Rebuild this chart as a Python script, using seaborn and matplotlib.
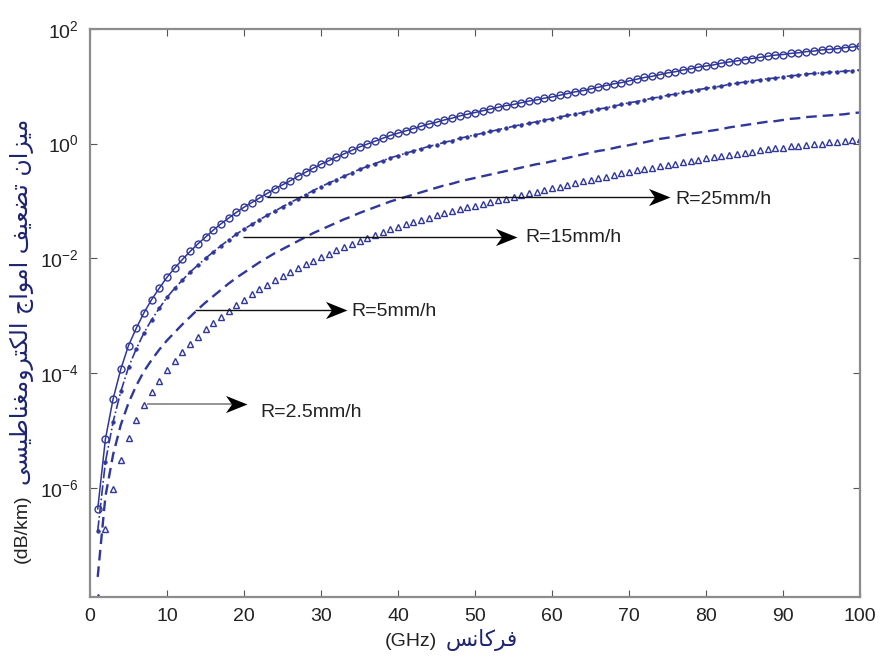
import numpy as np
import pandas as pd
import matplotlib
matplotlib.use("Agg")
import matplotlib.pyplot as plt
from matplotlib.path import Path
import seaborn as sns

# ---------------- data (log10 of attenuation in dB/km) ----------------
freq_ghz = list(range(1, 101))

r25_log10 = [
    -6.37, -5.15, -4.45, -3.93, -3.52, -3.22, -2.95, -2.72, -2.52, -2.33,
    -2.17, -2.02, -1.88, -1.75, -1.63, -1.51, -1.40, -1.30, -1.20, -1.11,
    -1.03, -0.95, -0.87, -0.79, -0.72, -0.65, -0.57, -0.50, -0.43, -0.36,
    -0.30, -0.24, -0.18, -0.12, -0.06, -0.01, 0.04, 0.09, 0.14, 0.18,
    0.22, 0.26, 0.30, 0.34, 0.37, 0.41, 0.44, 0.48, 0.51, 0.54,
    0.57, 0.60, 0.63, 0.66, 0.68, 0.71, 0.74, 0.76, 0.79, 0.81,
    0.84, 0.87, 0.90, 0.92, 0.95, 0.98, 1.01, 1.04, 1.06, 1.09,
    1.12, 1.15, 1.17, 1.20, 1.23, 1.25, 1.28, 1.30, 1.33, 1.35,
    1.37, 1.40, 1.42, 1.44, 1.46, 1.48, 1.50, 1.52, 1.54, 1.55,
    1.57, 1.58, 1.60, 1.61, 1.63, 1.64, 1.65, 1.67, 1.68, 1.70,
]

r15_log10 = [
    -6.75, -5.55, -4.85, -4.32, -3.90, -3.58, -3.30, -3.07, -2.87, -2.68,
    -2.52, -2.38, -2.24, -2.12, -2.00, -1.89, -1.78, -1.68, -1.58, -1.49,
    -1.41, -1.33, -1.25, -1.18, -1.10, -1.03, -0.96, -0.89, -0.82, -0.75,
    -0.69, -0.63, -0.57, -0.51, -0.45, -0.40, -0.35, -0.30, -0.25, -0.21,
    -0.17, -0.13, -0.09, -0.05, -0.02, 0.02, 0.05, 0.09, 0.12, 0.15,
    0.18, 0.21, 0.24, 0.27, 0.30, 0.33, 0.35, 0.38, 0.41, 0.43,
    0.46, 0.49, 0.51, 0.54, 0.57, 0.60, 0.62, 0.65, 0.68, 0.71,
    0.73, 0.76, 0.79, 0.81, 0.84, 0.86, 0.89, 0.91, 0.94, 0.96,
    0.98, 1.00, 1.03, 1.05, 1.07, 1.09, 1.11, 1.13, 1.14, 1.16,
    1.18, 1.19, 1.21, 1.22, 1.23, 1.24, 1.25, 1.26, 1.27, 1.28,
]

r5_log10 = [
    -7.55, -6.15, -5.42, -4.90, -4.52, -4.22, -3.97, -3.77, -3.59, -3.43,
    -3.29, -3.15, -3.02, -2.89, -2.77, -2.66, -2.55, -2.44, -2.34, -2.25,
    -2.16, -2.07, -1.99, -1.91, -1.84, -1.77, -1.70, -1.63, -1.56, -1.50,
    -1.44, -1.38, -1.32, -1.27, -1.21, -1.16, -1.11, -1.06, -1.01, -0.97,
    -0.93, -0.89, -0.85, -0.81, -0.77, -0.73, -0.70, -0.66, -0.63, -0.60,
    -0.57, -0.54, -0.51, -0.48, -0.45, -0.42, -0.39, -0.36, -0.34, -0.31,
    -0.28, -0.25, -0.22, -0.19, -0.16, -0.13, -0.11, -0.08, -0.05, -0.03,
    0.00, 0.02, 0.05, 0.08, 0.10, 0.12, 0.15, 0.17, 0.19, 0.21,
    0.23, 0.25, 0.28, 0.30, 0.32, 0.34, 0.36, 0.38, 0.39, 0.41,
    0.43, 0.44, 0.46, 0.47, 0.48, 0.49, 0.50, 0.51, 0.53, 0.54,
]

r2_5_log10 = [
    -7.90, -6.72, -6.02, -5.52, -5.13, -4.82, -4.56, -4.33, -4.13, -3.95,
    -3.79, -3.64, -3.50, -3.37, -3.24, -3.13, -3.02, -2.91, -2.81, -2.72,
    -2.63, -2.54, -2.46, -2.38, -2.31, -2.24, -2.17, -2.10, -2.04, -1.98,
    -1.92, -1.86, -1.80, -1.75, -1.69, -1.64, -1.59, -1.54, -1.49, -1.45,
    -1.41, -1.37, -1.33, -1.29, -1.25, -1.21, -1.18, -1.14, -1.11, -1.08,
    -1.05, -1.02, -0.99, -0.96, -0.93, -0.90, -0.87, -0.84, -0.81, -0.78,
    -0.75, -0.72, -0.69, -0.66, -0.63, -0.60, -0.58, -0.55, -0.52, -0.50,
    -0.47, -0.45, -0.42, -0.40, -0.37, -0.35, -0.33, -0.31, -0.28, -0.26,
    -0.24, -0.22, -0.20, -0.18, -0.16, -0.14, -0.12, -0.10, -0.08, -0.07,
    -0.05, -0.04, -0.02, -0.01, 0.00, 0.02, 0.03, 0.04, 0.06, 0.07,
]

rain_labels = ["R=25mm/h", "R=15mm/h", "R=5mm/h", "R=2.5mm/h"]
x_ticks = [0, 10, 20, 30, 40, 50, 60, 70, 80, 90, 100]
y_tick_exps = [-6, -4, -2, 0, 2]

# annotation geometry (data coordinates)
arrow_start_x = [23.0, 19.9, 13.6, 7.4]
arrow_tip_x = [75.3, 55.5, 33.4, 20.4]
arrow_y_exp = [-0.94, -1.62, -2.90, -4.53]
label_x = [76.0, 56.5, 34.0, 22.1]
label_y_exp = [-0.98, -1.64, -2.93, -4.69]
arrow_line_colors = ["#111111", "#111111", "#111111", "#8a8a8a"]

# ---------------- Persian shaping helper (presentation forms, visual order) ----------------
FORMS = {
    "\u0627": ("\uFE8D", "\uFE8E", None, None),
    "\u062A": ("\uFE95", "\uFE96", "\uFE97", "\uFE98"),
    "\u062C": ("\uFE9D", "\uFE9E", "\uFE9F", "\uFEA0"),
    "\u0631": ("\uFEAD", "\uFEAE", None, None),
    "\u0632": ("\uFEAF", "\uFEB0", None, None),
    "\u0633": ("\uFEB1", "\uFEB2", "\uFEB3", "\uFEB4"),
    "\u0636": ("\uFEBD", "\uFEBE", "\uFEBF", "\uFEC0"),
    "\u0637": ("\uFEC1", "\uFEC2", "\uFEC3", "\uFEC4"),
    "\u0639": ("\uFEC9", "\uFECA", "\uFECB", "\uFECC"),
    "\u063A": ("\uFECD", "\uFECE", "\uFECF", "\uFED0"),
    "\u0641": ("\uFED1", "\uFED2", "\uFED3", "\uFED4"),
    "\u0644": ("\uFEDD", "\uFEDE", "\uFEDF", "\uFEE0"),
    "\u0645": ("\uFEE1", "\uFEE2", "\uFEE3", "\uFEE4"),
    "\u0646": ("\uFEE5", "\uFEE6", "\uFEE7", "\uFEE8"),
    "\u0648": ("\uFEED", "\uFEEE", None, None),
    "\u06A9": ("\uFB8E", "\uFB8F", "\uFB90", "\uFB91"),
    "\u0643": ("\uFED9", "\uFEDA", "\uFEDB", "\uFEDC"),
    "\u06CC": ("\uFBFC", "\uFBFD", "\uFBFE", "\uFBFF"),
    "\u064A": ("\uFEF1", "\uFEF2", "\uFEF3", "\uFEF4"),
}


def shape_fa(text):
    out = []
    for i, c in enumerate(text):
        if c not in FORMS:
            out.append(c)
            continue
        prev = text[i - 1] if i > 0 else None
        nxt = text[i + 1] if i + 1 < len(text) else None
        join_prev = prev in FORMS and FORMS[prev][2] is not None
        join_next = FORMS[c][2] is not None and nxt in FORMS
        iso, fin, ini, med = FORMS[c]
        if join_prev and join_next:
            out.append(med)
        elif join_prev:
            out.append(fin)
        elif join_next:
            out.append(ini)
        else:
            out.append(iso)
    return "".join(reversed(out))


y_label_fa = "میزان تضعیف امواج الکترومغناطیسی"
y_label_unit = "(dB/km)"
x_label_fa = "فرکانس"
x_label_unit = "(GHz)"

# ---------------- style ----------------
sns.set_style("ticks")
plt.rcParams["font.family"] = ["Liberation Sans", "DejaVu Sans"]
plt.rcParams["mathtext.fontset"] = "custom"
plt.rcParams["mathtext.rm"] = "Liberation Sans"
plt.rcParams["mathtext.it"] = "Liberation Sans:italic"
plt.rcParams["mathtext.bf"] = "Liberation Sans:bold"

BLUE = "#30379a"
NAVY = "#1d2470"
SPINE = "#8c8c8c"
TXT = "#222222"

df = pd.DataFrame({
    "f": freq_ghz,
    "R25": np.power(10.0, r25_log10),
    "R15": np.power(10.0, r15_log10),
    "R5": np.power(10.0, r5_log10),
    "R2.5": np.power(10.0, r2_5_log10),
})

fig = plt.figure(figsize=(8.81, 6.57), dpi=100)
ax = fig.add_axes([90 / 881, 60 / 657, 770 / 881, 568.3 / 657])
ax.set_yscale("log")

sns.lineplot(data=df, x="f", y="R25", ax=ax, color=BLUE, linewidth=1.1,
             marker="o", markersize=5.0, markerfacecolor="none",
             markeredgecolor=BLUE, markeredgewidth=1.0, errorbar=None)
sns.lineplot(data=df, x="f", y="R15", ax=ax, color=BLUE, linewidth=1.2,
             linestyle="-.", marker=".", markersize=5, markerfacecolor=BLUE,
             markeredgecolor=BLUE, markeredgewidth=0.6, errorbar=None)
sns.lineplot(data=df, x="f", y="R5", ax=ax, color=BLUE, linewidth=1.7,
             linestyle=(0, (4.5, 2.5)), errorbar=None)
sns.lineplot(data=df, x="f", y="R2.5", ax=ax, color=BLUE, linestyle="none",
             marker="^", markersize=4.8, markerfacecolor="none",
             markeredgecolor=BLUE, markeredgewidth=1.0, errorbar=None)

ax.set_xlim(0, 100)
ax.set_ylim(10 ** -7.9, 10 ** 2)
ax.set_xticks(x_ticks)
ax.set_xticklabels([str(t) for t in x_ticks])
ax.set_yticks([10.0 ** e for e in y_tick_exps])
ax.set_yticklabels([r"$\mathdefault{10^{%d}}$" % e for e in y_tick_exps])
ax.yaxis.set_minor_locator(matplotlib.ticker.NullLocator())
ax.tick_params(axis="both", which="major", direction="in", length=5, width=0.8,
               color="#555555", labelsize=14, labelcolor=TXT, top=True, right=True, pad=8)
for s in ax.spines.values():
    s.set_color(SPINE)
    s.set_linewidth(1.6)
ax.set_xlabel("")
ax.set_ylabel("")

# arrows and labels
head = Path([(0, 0), (-1, 0.40), (-0.72, 0), (-1, -0.40), (0, 0)],
            [Path.MOVETO, Path.LINETO, Path.LINETO, Path.LINETO, Path.CLOSEPOLY])
for x0, x1, ye, lc, tx, tye, lab in zip(arrow_start_x, arrow_tip_x, arrow_y_exp,
                                         arrow_line_colors, label_x, label_y_exp, rain_labels):
    yv = 10.0 ** ye
    ax.plot([x0, x1 - 1.5], [yv, yv], color=lc, lw=1.3 if lc != "#111111" else 1.0,
            solid_capstyle="butt", zorder=5)
    ax.plot([x1], [yv], marker=head, markersize=31, color="black", zorder=6,
            markeredgewidth=0)
    ax.text(tx, 10.0 ** tye, lab, fontsize=14, color=TXT, ha="left", va="center",
            family=["Liberation Sans", "DejaVu Sans"])

# axis labels (Persian shaped in visual order)
fig.text(22 / 881, 1 - 563 / 657, y_label_unit, rotation=90, rotation_mode="anchor",
         ha="left", va="center", fontsize=14, color=TXT,
         family=["Liberation Sans", "DejaVu Sans"])
fig.text(22 / 881, 1 - 485 / 657, shape_fa(y_label_fa), rotation=90, rotation_mode="anchor",
         ha="left", va="center", fontsize=17, color=NAVY,
         family=["DejaVu Sans", "Liberation Sans"])
fig.text(437 / 881, 1 - 641 / 657, x_label_unit, ha="right", va="center", fontsize=14,
         color=TXT, family=["Liberation Sans", "DejaVu Sans"])
fig.text(446 / 881, 1 - 640 / 657, shape_fa(x_label_fa), ha="left", va="center",
         fontsize=15.5, color=NAVY, family=["DejaVu Sans", "Liberation Sans"])

fig.savefig("out.png", dpi=100)
